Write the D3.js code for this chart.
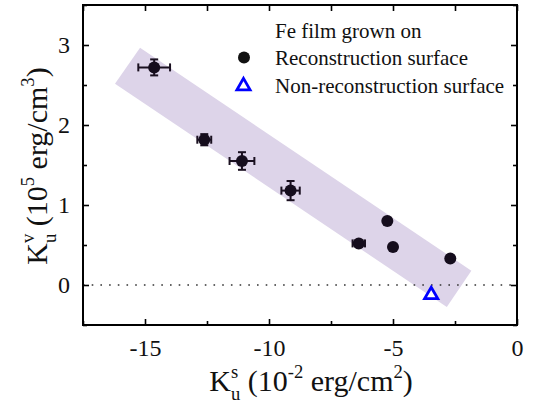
<!DOCTYPE html>
<html>
<head>
<meta charset="utf-8">
<script src="https://cdn.jsdelivr.net/npm/d3@7"></script>
</head>
<body style="margin:0;background:#fff">
<svg id="chart" width="533" height="407" style="font-family:'Liberation Serif'"></svg>
<script>
// data
var recon_x    = [-14.63, -12.61, -11.09, -9.13, -6.38, -5.23, -5.0, -2.69];
var recon_y    = [2.72, 1.816, 1.55, 1.18, 0.52, 0.80, 0.475, 0.33];
var recon_xerr = [0.64, 0.28, 0.5, 0.37, 0.25, 0, 0, 0];
var recon_yerr = [0.10, 0.07, 0.11, 0.12, 0, 0, 0, 0];

var nonrecon_x = [-3.46];
var nonrecon_y = [-0.11];

// shaded guide band, corners in data units
var band_x = [-15.2, -1.84, -2.83, -16.21];
var band_y = [2.966, 0.179, -0.275, 2.516];

var x_ticks = [-15, -10, -5, 0];
var x_minor = [-17.5, -12.5, -7.5, -2.5];
var y_ticks = [0, 1, 2, 3];
var y_minor = [-0.5, 0.5, 1.5, 2.5, 3.5];

var legend_title = "Fe film grown on";
var legend_labels = ["Reconstruction surface", "Non-reconstruction surface"];

function font(px){ return "font-family:'Liberation Serif';font-size:" + px + "px;fill:#111"; }

var svg = d3.select("#chart");

var margin = {left: 83, right: 16, top: 5, bottom: 82};
var width = 533, height = 407;

var x = d3.scaleLinear()
    .domain([-17.5, 0])
    .range([margin.left, width - margin.right]);

var y = d3.scaleLinear()
    .domain([-0.5, 3.5])
    .range([height - margin.bottom, margin.top]);

// band
var corners = band_x.map((d, i) => [x(d), y(band_y[i])]);
svg.append("path")
    .attr("d", "M" + corners.join("L") + "Z")
    .style("fill", "#ddd4e9");

// zero line
svg.append("line")
    .attr("x1", x.range()[0]).attr("x2", x.range()[1])
    .attr("y1", y(0)).attr("y2", y(0))
    .style("stroke", "#333")
    .style("stroke-width", 1.6)
    .style("stroke-dasharray", "1.6,7.1");

// axes, ticks pointing in
function styleAxis(g){
  g.attr("font-family", "Liberation Serif");
  g.select(".domain").remove();
  g.selectAll(".tick line").style("stroke", "#000").style("stroke-width", 1.6);
  g.selectAll("text").attr("style", font(24));
}

var fmt = d => String(d);

svg.append("g")
    .attr("transform", "translate(0," + y.range()[0] + ")")
    .call(d3.axisBottom(x).tickValues(x_ticks).tickSize(-6).tickPadding(14).tickFormat(fmt))
    .call(styleAxis);

svg.append("g")
    .attr("transform", "translate(0," + y.range()[0] + ")")
    .call(d3.axisBottom(x).tickValues(x_minor).tickSize(-4).tickFormat(""))
    .call(styleAxis);

svg.append("g")
    .attr("transform", "translate(0," + y.range()[1] + ")")
    .call(d3.axisTop(x).tickValues(x_ticks.concat(x_minor)).tickSize(-6).tickFormat(""))
    .call(styleAxis);

svg.append("g")
    .attr("transform", "translate(" + x.range()[0] + ",0)")
    .call(d3.axisLeft(y).tickValues(y_ticks).tickSize(-6).tickPadding(13).tickFormat(fmt))
    .call(styleAxis);

svg.append("g")
    .attr("transform", "translate(" + x.range()[0] + ",0)")
    .call(d3.axisLeft(y).tickValues(y_minor).tickSize(-4).tickFormat(""))
    .call(styleAxis);

svg.append("g")
    .attr("transform", "translate(" + x.range()[1] + ",0)")
    .call(d3.axisRight(y).tickValues(y_ticks).tickSize(-6).tickFormat(""))
    .call(styleAxis);

svg.append("g")
    .attr("transform", "translate(" + x.range()[1] + ",0)")
    .call(d3.axisRight(y).tickValues(y_minor).tickSize(-4).tickFormat(""))
    .call(styleAxis);

svg.append("rect")
    .attr("x", x.range()[0]).attr("y", y.range()[1])
    .attr("width", x.range()[1] - x.range()[0])
    .attr("height", y.range()[0] - y.range()[1])
    .style("fill", "none").style("stroke", "#000").style("stroke-width", 2);

// error bars
var pts = recon_x.map((d, i) => ({x: d, y: recon_y[i], xe: recon_xerr[i], ye: recon_yerr[i]}));
var cap = 4;
var eb = svg.append("g").style("stroke", "#1a1020").style("stroke-width", 2);

pts.filter(d => d.xe > 0).forEach(d => {
  eb.append("line").attr("x1", x(d.x - d.xe)).attr("x2", x(d.x + d.xe)).attr("y1", y(d.y)).attr("y2", y(d.y));
  eb.append("line").attr("x1", x(d.x - d.xe)).attr("x2", x(d.x - d.xe)).attr("y1", y(d.y) - cap).attr("y2", y(d.y) + cap);
  eb.append("line").attr("x1", x(d.x + d.xe)).attr("x2", x(d.x + d.xe)).attr("y1", y(d.y) - cap).attr("y2", y(d.y) + cap);
});
pts.filter(d => d.ye > 0).forEach(d => {
  eb.append("line").attr("x1", x(d.x)).attr("x2", x(d.x)).attr("y1", y(d.y - d.ye)).attr("y2", y(d.y + d.ye));
  eb.append("line").attr("x1", x(d.x) - cap).attr("x2", x(d.x) + cap).attr("y1", y(d.y - d.ye)).attr("y2", y(d.y - d.ye));
  eb.append("line").attr("x1", x(d.x) - cap).attr("x2", x(d.x) + cap).attr("y1", y(d.y + d.ye)).attr("y2", y(d.y + d.ye));
});

svg.selectAll(".dot")
    .data(pts)
  .enter().append("circle")
    .attr("class", "dot")
    .attr("cx", d => x(d.x))
    .attr("cy", d => y(d.y))
    .attr("r", 6)
    .style("fill", "#150d1d");

var tri = d3.symbol().type(d3.symbolTriangle).size(75);

svg.selectAll(".tri")
    .data(nonrecon_x)
  .enter().append("path")
    .attr("class", "tri")
    .attr("d", tri)
    .attr("transform", (d, i) => "translate(" + x(d) + "," + (y(nonrecon_y[i]) + 1) + ")")
    .style("fill", "#fff")
    .style("stroke", "#0000ff")
    .style("stroke-width", 2.8);

// legend
var lg = svg.append("g");
lg.append("text").attr("x", 275).attr("y", 38).attr("style", font(21)).text(legend_title);
lg.append("text").attr("x", 275).attr("y", 65).attr("style", font(21)).text(legend_labels[0]);
lg.append("text").attr("x", 275).attr("y", 93).attr("style", font(21)).text(legend_labels[1]);
lg.append("circle").attr("cx", 244).attr("cy", 57.5).attr("r", 6).style("fill", "#111");
lg.append("path").attr("d", tri).attr("transform", "translate(243.5,86)")
    .style("fill", "#fff").style("stroke", "#0000ff").style("stroke-width", 2.8);

// axis titles built from pieces so sub/superscripts line up
function richLabel(g, parts, size){
  var cx = 0;
  var lastBase = 0;
  parts.forEach(p => {
    var fs = p.small ? size * 0.62 : size;
    var dy = p.sup ? -size * 0.42 : (p.sub ? size * 0.3 : 0);
    var t = g.append("text")
        .attr("x", p.stack ? lastBase : cx)
        .attr("y", dy)
        .attr("style", font(fs) + ";white-space:pre")
        .text(p.t);
    var w = t.node().getComputedTextLength();
    if (!p.stack) { lastBase = cx; cx += w; }
    else cx = Math.max(cx, lastBase + w);
    if (!p.small) lastBase = cx;
  });
  g.selectAll("text").attr("x", function(){ return +d3.select(this).attr("x") - cx / 2; });
}

var xl = svg.append("g").attr("transform", "translate(311,391)");
richLabel(xl, [
  {t: "K"}, {t: "s", small: true, sup: true}, {t: "u", small: true, sub: true, stack: true},
  {t: "\u00a0(10"}, {t: "-2", small: true, sup: true}, {t: "\u00a0erg/cm"},
  {t: "2", small: true, sup: true}, {t: ")"}
], 30);

var yl = svg.append("g").attr("transform", "translate(47,166) rotate(-90)");
richLabel(yl, [
  {t: "K"}, {t: "v", small: true, sup: true}, {t: "u", small: true, sub: true, stack: true},
  {t: "\u00a0(10"}, {t: "5", small: true, sup: true}, {t: "\u00a0erg/cm"},
  {t: "3", small: true, sup: true}, {t: ")"}
], 30);
</script>
</body>
</html>
